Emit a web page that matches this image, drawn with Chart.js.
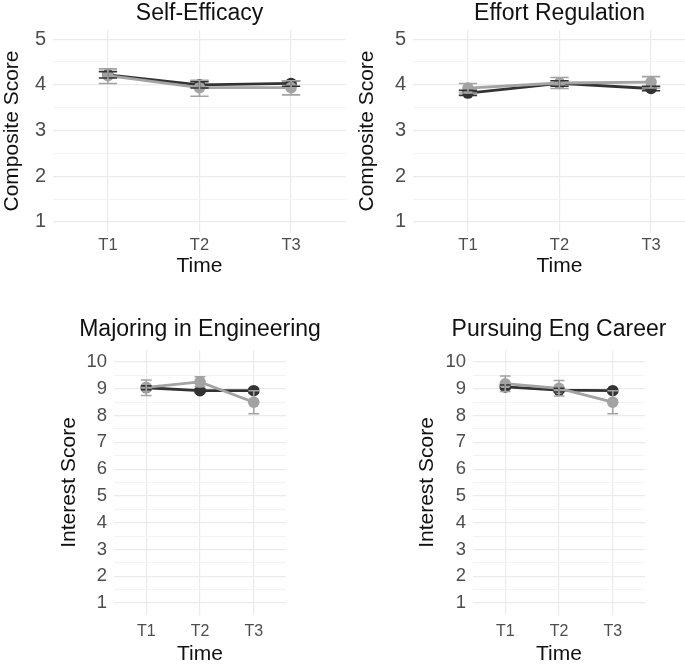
<!DOCTYPE html>
<html>
<head>
<meta charset="utf-8">
<script src="https://cdn.jsdelivr.net/npm/chart.js@4.4.1/dist/chart.umd.min.js"></script>
<style>
  html, body { margin: 0; padding: 0; background: #fff; overflow: hidden; width: 685px; height: 664px; }
  canvas { position: absolute; }
</style>
</head>
<body>
<canvas id="selfEfficacy"></canvas>
<canvas id="effortRegulation"></canvas>
<canvas id="majoring"></canvas>
<canvas id="pursuing"></canvas>
<script>
const timeLabels = ['T1', 'T2', 'T3']

// Self-Efficacy
const seDark = [4.22, 4.00, 4.03]
const seDarkLo = [4.15, 3.93, 3.97]
const seDarkHi = [4.29, 4.07, 4.09]
const seLight = [4.20, 3.94, 3.94]
const seLightLo = [4.03, 3.75, 3.78]
const seLightHi = [4.35, 4.10, 4.09]

// Effort Regulation
const erDark = [3.82, 4.03, 3.92]
const erDarkLo = [3.77, 3.97, 3.87]
const erDarkHi = [3.88, 4.09, 3.97]
const erLight = [3.93, 4.04, 4.06]
const erLightLo = [3.82, 3.92, 3.93]
const erLightHi = [4.03, 4.16, 4.18]

// Majoring in Engineering
const mjDark = [9.04, 8.93, 8.93]
const mjDarkLo = [8.97, 8.86, 8.85]
const mjDarkHi = [9.11, 9.00, 9.01]
const mjLight = [9.05, 9.26, 8.50]
const mjLightLo = [8.75, 9.08, 8.07]
const mjLightHi = [9.33, 9.45, 8.93]

// Pursuing Eng Career
const pcDark = [9.07, 8.95, 8.93]
const pcDarkLo = [9.00, 8.88, 8.86]
const pcDarkHi = [9.14, 9.02, 9.00]
const pcLight = [9.19, 9.02, 8.50]
const pcLightLo = [8.90, 8.73, 8.07]
const pcLightHi = [9.48, 9.31, 8.93]

const compositeTicks = [1, 1.5, 2, 2.5, 3, 3.5, 4, 4.5, 5]
const interestTicks = [1, 1.5, 2, 2.5, 3, 3.5, 4, 4.5, 5, 5.5, 6, 6.5, 7, 7.5, 8, 8.5, 9, 9.5, 10]

const DARK = '#333333'
const LIGHT = '#a3a3a3'
const FONT = "'Liberation Sans', Arial, sans-serif"

const errorBars = {
    id: 'errorBars',
    afterDatasetsDraw(chart) {
        const ctx = chart.ctx
        const xs = chart.scales.x
        const ys = chart.scales.y
        const metas = chart.data.datasets.map((d, i) => i).sort((a, b) => chart.data.datasets[b].order - chart.data.datasets[a].order)
        metas.forEach(i => {
            const ds = chart.data.datasets[i]
            ctx.save()
            ctx.strokeStyle = ds.borderColor
            ctx.lineWidth = 1.6
            ds.data.forEach((p, j) => {
                const x = xs.getPixelForValue(p.x)
                const xl = xs.getPixelForValue(p.x - 0.1)
                const xr = xs.getPixelForValue(p.x + 0.1)
                const yl = ys.getPixelForValue(ds.lo[j])
                const yh = ys.getPixelForValue(ds.hi[j])
                ctx.beginPath()
                ctx.moveTo(x, yl); ctx.lineTo(x, yh)
                ctx.moveTo(xl, yl); ctx.lineTo(xr, yl)
                ctx.moveTo(xl, yh); ctx.lineTo(xr, yh)
                ctx.stroke()
            })
            ctx.restore()
        })
    }
}

const series = (values, lo, hi, color, order) => ({
    data: values.map((v, i) => ({ x: i + 1, y: v })),
    lo: lo,
    hi: hi,
    borderColor: color,
    backgroundColor: color,
    borderWidth: 2.8,
    pointRadius: 5.8,
    pointBorderWidth: 0,
    pointBackgroundColor: color,
    tension: 0,
    order: order
})

const makePanel = (id, cfg) => {
    const canvas = document.getElementById(id)
    canvas.width = cfg.w
    canvas.height = cfg.h
    canvas.style.left = cfg.left + 'px'
    canvas.style.top = cfg.top + 'px'

    new Chart(canvas, {
        type: 'line',
        data: {
            datasets: [
                series(cfg.dark, cfg.darkLo, cfg.darkHi, DARK, 1),
                series(cfg.light, cfg.lightLo, cfg.lightHi, LIGHT, 0)
            ]
        },
        options: {
            responsive: false,
            animation: false,
            layout: { padding: 0 },
            plugins: {
                legend: { display: false },
                tooltip: { enabled: false },
                title: {
                    display: true,
                    text: cfg.title,
                    color: '#111',
                    font: { family: FONT, size: 23, weight: 'normal' },
                    padding: { top: 0, bottom: cfg.titlePad }
                }
            },
            scales: {
                x: {
                    type: 'linear',
                    min: 0.4,
                    max: 3.6,
                    afterBuildTicks: s => { s.ticks = [1, 2, 3].map(v => ({ value: v })) },
                    afterFit: s => { s.height = cfg.xH },
                    border: { display: false },
                    grid: { color: '#ebebeb', lineWidth: 1.2, drawTicks: false },
                    ticks: {
                        callback: v => timeLabels[v - 1],
                        color: '#4d4d4d',
                        padding: cfg.xTickPad,
                        maxRotation: 0,
                        font: { family: FONT, size: cfg.xTickSize }
                    },
                    title: {
                        display: true,
                        text: 'Time',
                        color: '#111',
                        font: { family: FONT, size: 21 },
                        padding: { top: 0, bottom: cfg.xTitlePad }
                    }
                },
                y: {
                    min: cfg.yMin,
                    max: cfg.yMax,
                    afterBuildTicks: s => { s.ticks = cfg.yTicks.map(v => ({ value: v })) },
                    afterFit: s => { s.width = cfg.yW },
                    border: { display: false },
                    grid: {
                        drawTicks: false,
                        color: c => Number.isInteger(c.tick.value) ? '#ebebeb' : '#f3f3f3',
                        lineWidth: c => Number.isInteger(c.tick.value) ? 1.2 : 1
                    },
                    ticks: {
                        callback: v => Number.isInteger(v) ? String(v) : '',
                        color: '#4d4d4d',
                        padding: 7,
                        autoSkip: false,
                        font: { family: FONT, size: cfg.yTickSize }
                    },
                    title: {
                        display: true,
                        text: cfg.yTitle,
                        color: '#111',
                        font: { family: FONT, size: 21 },
                        padding: { top: 0, bottom: 0 }
                    }
                },
                yR: {
                    position: 'right',
                    afterFit: s => { s.width = cfg.yW },
                    border: { display: false },
                    grid: { display: false },
                    ticks: { display: false }
                }
            }
        },
        plugins: [errorBars]
    })
}

const topPanel = {
    top: 0, h: 290, xH: 58, titlePad: 2.4, xTitlePad: 11, xTickPad: 4,
    xTickSize: 16.5, yTickSize: 20,
    yMin: 0.78, yMax: 5.2, yTicks: compositeTicks, yTitle: 'Composite Score'
}
const bottomPanel = {
    top: 316, h: 352, xH: 53, titlePad: 6.4, xTitlePad: 1.4, xTickPad: 7,
    xTickSize: 16, yTickSize: 18.5,
    yMin: 0.55, yMax: 10.45, yTicks: interestTicks, yTitle: 'Interest Score'
}

makePanel('selfEfficacy', Object.assign({}, topPanel, {
    left: 0, w: 399, yW: 53, title: 'Self-Efficacy',
    dark: seDark, darkLo: seDarkLo, darkHi: seDarkHi,
    light: seLight, lightLo: seLightLo, lightHi: seLightHi
}))
makePanel('effortRegulation', Object.assign({}, topPanel, {
    left: 355, w: 409, yW: 58, title: 'Effort Regulation',
    dark: erDark, darkLo: erDarkLo, darkHi: erDarkHi,
    light: erLight, lightLo: erLightLo, lightHi: erLightHi
}))
makePanel('majoring', Object.assign({}, bottomPanel, {
    left: 57, w: 286, yW: 57, title: 'Majoring in Engineering',
    dark: mjDark, darkLo: mjDarkLo, darkHi: mjDarkHi,
    light: mjLight, lightLo: mjLightLo, lightHi: mjLightHi
}))
makePanel('pursuing', Object.assign({}, bottomPanel, {
    left: 415, w: 288, yW: 58, title: 'Pursuing Eng Career',
    dark: pcDark, darkLo: pcDarkLo, darkHi: pcDarkHi,
    light: pcLight, lightLo: pcLightLo, lightHi: pcLightHi
}))
</script>
</body>
</html>
